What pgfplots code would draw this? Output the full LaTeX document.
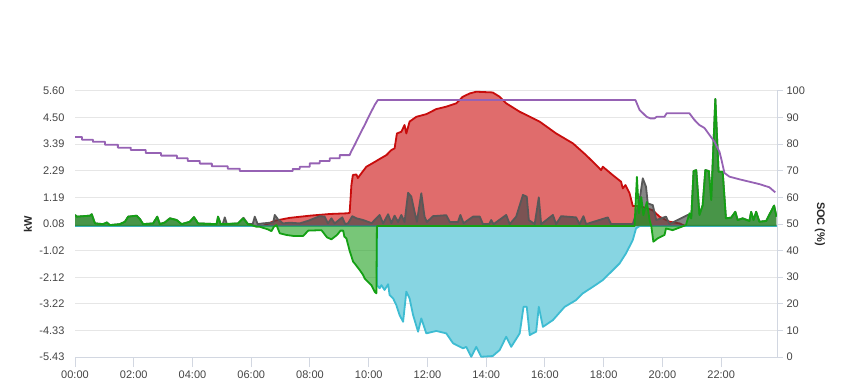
\documentclass[border=0pt]{standalone}
\usepackage{pgfplots}
\usepackage{pgfplotstable}
\pgfplotsset{compat=1.18}
\usepackage{fontspec}
\setmainfont{Liberation Sans}
\definecolor{pvline}{RGB}{200,12,12}
\definecolor{pvfill}{RGB}{224,108,108}
\definecolor{batline}{RGB}{62,188,210}
\definecolor{batfill}{RGB}{135,213,226}
\definecolor{grdline}{RGB}{20,160,20}
\definecolor{grdfill}{RGB}{30,160,30}
\definecolor{loadline}{RGB}{88,88,88}
\definecolor{loadfill}{RGB}{70,70,70}
\definecolor{socline}{RGB}{150,98,180}
\definecolor{gridgray}{RGB}{230,230,230}
\definecolor{axisgray}{RGB}{210,215,225}
\definecolor{ticktext}{RGB}{68,68,68}
\definecolor{labeltext}{RGB}{40,40,40}

\pgfplotstableread{
h kw
0 0
6.39 0
6.80 0.22
7.31 0.34
7.99 0.43
8.67 0.50
9.29 0.53
9.35 0.55
9.41 1.70
9.46 2.12
9.58 2.14
9.63 1.99
9.75 2.19
9.92 2.46
10.15 2.62
10.37 2.78
10.60 2.94
10.77 3.15
10.88 3.22
10.96 3.84
11.11 3.91
11.22 4.19
11.28 3.84
11.39 4.33
11.62 4.53
11.96 4.64
12.30 4.85
12.64 4.95
12.98 5.09
13.20 5.36
13.44 5.50
13.66 5.57
14.22 5.54
14.46 5.36
14.68 5.09
15.14 4.74
15.82 4.33
16.38 3.84
16.95 3.43
17.40 2.94
17.80 2.46
17.91 2.32
17.97 2.46
18.30 2.12
18.59 1.84
18.65 1.56
18.74 1.70
18.88 1.36
18.99 0.83
19.22 0.83
19.66 0.66
19.90 0.39
20.24 0.18
20.58 0.11
20.78 0
23.9 0
}\pvdata

\pgfplotstableread{
h kw
0 0
10.27 0
10.28 -2.45
10.37 -2.58
10.43 -2.45
10.54 -2.65
10.66 -2.41
10.71 -2.86
10.83 -3.00
10.94 -3.28
11.05 -3.69
11.17 -3.97
11.28 -2.72
11.39 -3.00
11.51 -3.69
11.68 -4.38
11.79 -3.83
11.96 -4.45
12.30 -4.35
12.64 -4.45
12.87 -4.86
13.21 -5.07
13.32 -5.01
13.49 -5.42
13.66 -5.01
13.83 -5.42
14.22 -5.39
14.46 -5.14
14.68 -4.59
14.85 -5.01
15.14 -4.45
15.27 -3.35
15.38 -3.35
15.48 -4.52
15.70 -4.38
15.79 -3.35
15.93 -4.18
16.27 -3.90
16.67 -3.35
17.06 -3.07
17.29 -2.79
17.63 -2.52
17.97 -2.24
18.31 -1.83
18.54 -1.55
18.76 -1.13
18.99 -0.58
19.10 -0.10
19.22 0
23.9 0
}\batdata

\pgfplotstableread{
h kw
0.00 0.46
0.06 0.39
0.51 0.43
0.57 0.49
0.68 0.11
0.96 0.08
1.08 0.15
1.19 0.04
1.53 0.08
1.70 0.18
1.81 0.39
2.10 0.43
2.21 0.29
2.32 0.08
2.66 0.11
2.80 0.39
2.89 0.08
3.06 0.15
3.23 0.32
3.46 0.25
3.63 0.08
3.91 0.18
4.05 0.37
4.19 0.11
4.82 0.08
4.87 0.39
4.96 0.08
5.03 0.08
5.10 0.36
5.17 0.08
5.55 0.11
5.74 0.34
5.89 0.08
6.05 0.08
6.12 0.39
6.22 0.08
6.39 0.11
6.75 0.15
6.80 0.46
6.91 0.28
7.08 0.11
7.31 0.14
7.65 0.11
7.94 0.22
8.33 0.41
8.50 0.39
8.61 0.11
8.73 0.32
8.84 0.11
9.10 0.36
9.20 0.08
9.30 0.12
9.44 0.41
9.58 0.32
9.81 0.25
10.10 0.12
10.37 0.46
10.49 0.11
10.66 0.49
10.77 0.12
10.88 0.43
11.00 0.17
11.11 0.46
11.22 0.17
11.34 1.38
11.45 1.22
11.56 0.59
11.64 0.18
11.79 1.36
11.90 0.39
11.98 0.17
12.19 0.41
12.64 0.45
12.76 0.17
13.04 0.17
13.12 0.46
13.23 0.12
13.55 0.39
13.78 0.39
13.89 0.08
14.10 0.08
14.17 0.25
14.25 0.08
14.68 0.46
14.80 0.08
15.02 0.39
15.25 1.29
15.38 1.22
15.45 0.25
15.65 0.08
15.79 1.19
15.87 0.08
16.27 0.46
16.38 0.08
16.55 0.41
17.06 0.36
17.18 0.08
17.31 0.41
17.40 0.08
18.14 0.36
18.25 0.08
18.99 0.08
19.20 0.90
19.33 1.98
19.44 1.63
19.50 0.94
19.67 0.87
19.79 0.25
20.12 0.39
20.24 0.08
20.86 0.46
20.98 0.32
21.06 2.28
21.15 2.32
21.26 0.46
21.37 0.87
21.46 2.32
21.58 2.28
21.66 1.08
21.80 5.27
21.91 2.25
22.05 2.25
22.16 0.32
22.34 0.35
22.48 0.59
22.56 0.25
22.73 0.32
22.96 0.21
23.02 0.59
23.10 0.25
23.19 0.59
23.30 0.18
23.53 0.21
23.80 0.85
23.88 0.39
}\loaddata

\pgfplotstableread{
h kw
0.00 0.46
0.06 0.39
0.51 0.43
0.57 0.49
0.68 0.11
0.96 0.08
1.08 0.15
1.19 0.04
1.53 0.08
1.70 0.18
1.81 0.39
2.10 0.43
2.21 0.29
2.32 0.08
2.66 0.11
2.80 0.39
2.89 0.08
3.06 0.15
3.23 0.32
3.46 0.25
3.63 0.08
3.91 0.18
4.05 0.37
4.19 0.11
4.82 0.08
4.87 0.39
4.96 0.08
5.55 0.11
5.72 0.32
5.89 0.08
6.01 0.04
6.18 -0.03
6.29 -0.03
6.57 -0.14
6.69 -0.21
6.77 -0.03
6.86 0.04
6.97 -0.30
7.20 -0.37
7.43 -0.41
7.77 -0.41
7.94 -0.19
8.39 -0.17
8.58 -0.47
8.73 -0.55
8.92 -0.37
9.04 -0.19
9.13 -0.19
9.17 -0.44
9.24 -0.51
9.35 -1.03
9.47 -1.48
9.52 -1.55
9.69 -1.82
9.81 -2.03
9.86 -2.17
10.03 -2.38
10.09 -2.45
10.20 -2.72
10.26 -2.79
10.28 0
19.05 0
19.13 2.04
19.20 0.53
19.28 1.20
19.35 0.45
19.47 1.00
19.56 0.25
19.62 0
19.69 -0.65
19.84 -0.51
20.07 -0.37
20.12 -0.10
20.35 -0.17
20.80 0.04
20.92 0.53
20.98 0.32
21.06 2.28
21.15 2.32
21.26 0.46
21.37 0.87
21.46 2.32
21.58 2.28
21.66 1.08
21.80 5.27
21.91 2.25
22.05 2.25
22.16 0.32
22.34 0.35
22.48 0.59
22.56 0.25
22.73 0.32
22.96 0.21
23.02 0.59
23.10 0.25
23.19 0.59
23.30 0.18
23.53 0.21
23.80 0.85
23.88 0.39
}\grddata

\pgfplotstableread{
h soc
0.00 82.7
0.24 82.7
0.24 81.7
0.61 81.7
0.61 80.9
1.02 80.9
1.02 79.8
1.46 79.8
1.46 78.7
1.90 78.7
1.90 77.8
2.41 77.8
2.41 76.7
2.93 76.7
2.93 75.7
3.47 75.7
3.47 74.7
3.84 74.7
3.84 73.7
4.25 73.7
4.25 72.7
4.66 72.7
4.66 71.7
5.20 71.7
5.20 70.8
5.61 70.8
5.61 69.9
7.41 69.9
7.41 70.7
7.65 70.7
7.65 71.5
7.99 71.5
7.99 72.8
8.33 72.8
8.33 73.7
8.67 73.7
8.67 74.7
9.01 74.7
9.01 75.9
9.35 75.9
9.40 77.2
9.52 79.7
9.69 83.5
9.86 87.2
10.03 91.0
10.20 94.7
10.31 96.6
19.08 96.6
19.22 92.9
19.46 90.3
19.59 89.7
19.73 89.7
19.80 90.3
20.07 90.3
20.14 91.6
20.92 91.6
21.09 89.1
21.26 87.2
21.43 86.1
21.60 83.5
21.77 80.9
21.94 77.2
22.01 74.1
22.11 69.2
22.28 67.8
22.62 66.8
22.96 65.9
23.30 65.0
23.64 63.8
23.84 61.9
}\socdata

\pgfplotsset{
  every tick label/.append style={font=\fontsize{11bp}{13bp}\selectfont, text=ticktext},
  every axis label/.append style={font=\fontsize{11bp}{13bp}\selectfont\bfseries, text=labeltext},
}

\begin{document}
\begin{tikzpicture}[x=1bp,y=1bp]
\useasboundingbox (0,0) rectangle (849,390);
\begin{axis}[
  at={(75bp,33bp)}, anchor=south west,
  scale only axis, width=702bp, height=266bp,
  xmin=0, xmax=23.9, ymin=-5.43, ymax=5.60,
  separate axis lines,
  axis x line*=bottom, axis y line*=left,
  x axis line style={draw=axisgray, line width=1bp, -},
  y axis line style={draw=none, -},
  xtick={0,2,4,6,8,10,12,14,16,18,20,22},
  xticklabels={00:00,02:00,04:00,06:00,08:00,10:00,12:00,14:00,16:00,18:00,20:00,22:00},
  ytick={5.6,4.497,3.394,2.291,1.188,0.085,-1.018,-2.121,-3.224,-4.327,-5.43},
  yticklabels={5.60,4.50,3.39,2.29,1.19,0.08,-1.02,-2.12,-3.22,-4.33,-5.43},
  ymajorgrids, grid style={gridgray, line width=1bp},
  xtick style={draw=axisgray, line width=1bp},
  ytick style={draw=none},
  tick align=outside,
  major tick length=10bp,
  yticklabel style={xshift=3bp},
  ylabel={kW},
  ylabel style={at={(axis description cs:-0.067,0.5)}, anchor=center},
]
\addplot[draw=none, fill=pvfill] table[x=h,y=kw]{\pvdata} \closedcycle;
\addplot[pvline, line width=1.8bp, line join=round] table[x=h,y=kw]{\pvdata};
\addplot[draw=none, fill=batfill] table[x=h,y=kw]{\batdata} \closedcycle;
\addplot[batline, line width=1.8bp, line join=round] table[x=h,y=kw]{\batdata};
\addplot[draw=none, fill=loadfill, fill opacity=0.65] table[x=h,y=kw]{\loaddata} \closedcycle;
\addplot[loadline, line width=1.8bp, line join=round] table[x=h,y=kw]{\loaddata};
\addplot[draw=none, fill=grdfill, fill opacity=0.6] table[x=h,y=kw]{\grddata} \closedcycle;
\addplot[grdline, line width=1.8bp, line join=round] table[x=h,y=kw]{\grddata};
\end{axis}
\begin{axis}[
  at={(75bp,33bp)}, anchor=south west,
  scale only axis, width=702bp, height=266bp,
  xmin=0, xmax=23.9, ymin=0, ymax=100,
  axis x line=none,
  axis y line*=right,
  y axis line style={draw=axisgray, line width=1bp, -},
  ytick={0,10,20,30,40,50,60,70,80,90,100},
  /pgf/number format/assume math mode=true,
  ytick style={draw=axisgray, line width=1bp},
  tick align=outside,
  major tick length=6bp,
  ylabel={SOC (\%)},
  ylabel style={at={(axis description cs:1.061,0.5)}, anchor=center, rotate=180},
]
\addplot[socline, line width=1.8bp, line join=round] table[x=h,y=soc]{\socdata};
\end{axis}
\end{tikzpicture}
\end{document}
